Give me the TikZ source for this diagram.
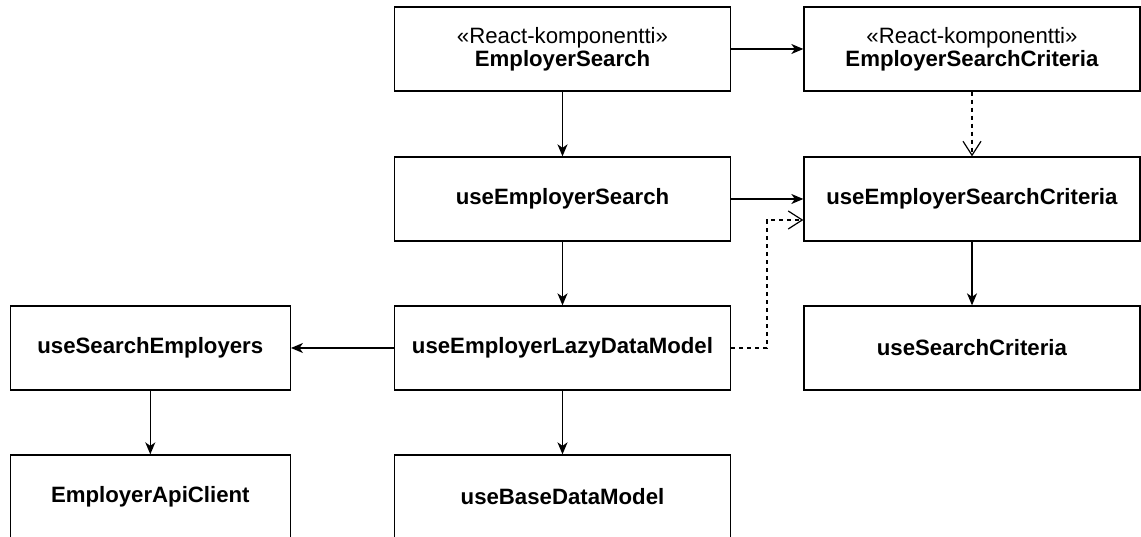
\documentclass[tikz,border=0pt]{standalone}
\usepackage{fontspec}
\setmainfont{Liberation Sans}
\usetikzlibrary{arrows.meta}
\begin{document}
\begin{tikzpicture}[x=1pt,y=-1pt,
  box/.style={draw=black,line width=1.3pt,rectangle,minimum width=336pt,minimum height=84pt,inner sep=0pt,align=center,font=\fontsize{22.2}{23}\selectfont},
  narrow/.style={box,minimum width=280pt},
  dep/.style={line width=1.3pt,-{Stealth[length=12pt,width=10pt,inset=3.5pt]}},
  use/.style={line width=1.2pt,dash pattern=on 4pt off 4pt,-{Straight Barb[length=14pt,width=18pt,line width=1.2pt]}}]
\useasboundingbox (0,0) rectangle (1141,537);
\fill[white] (0,0) rectangle (1141,537);
\node[box] (es) at (562.5,49) {«React-komponentti»\\\textbf{EmployerSearch}};
\node[box] (esc) at (972,49) {«React-komponentti»\\\textbf{EmployerSearchCriteria}};
\node[box] (ues) at (562.5,199) {\textbf{useEmployerSearch}};
\node[box] (uesc) at (972,199) {\textbf{useEmployerSearchCriteria}};
\node[narrow] (use) at (150.3,348) {\textbf{useSearchEmployers}};
\node[box] (lazy) at (562.5,348) {\textbf{useEmployerLazyDataModel}};
\node[box] (usc) at (972,348) {\textbf{useSearchCriteria}};
\node[narrow] (api) at (150.3,497) {\textbf{EmployerApiClient}};
\node[box] (base) at (562.5,497) {\textbf{useBaseDataModel}};
\coordinate (bend) at (767,220);
\draw[dep] (es) -- (esc);
\draw[dep] (es) -- (ues);
\draw[use] (esc) -- (uesc);
\draw[dep] (ues) -- (uesc);
\draw[use] (lazy.east) -| (bend) -- (uesc.west |- bend);
\draw[dep] (ues) -- (lazy);
\draw[dep] (lazy) -- (use);
\draw[dep] (lazy) -- (base);
\draw[dep] (uesc) -- (usc);
\draw[dep] (use) -- (api);
\end{tikzpicture}
\end{document}
